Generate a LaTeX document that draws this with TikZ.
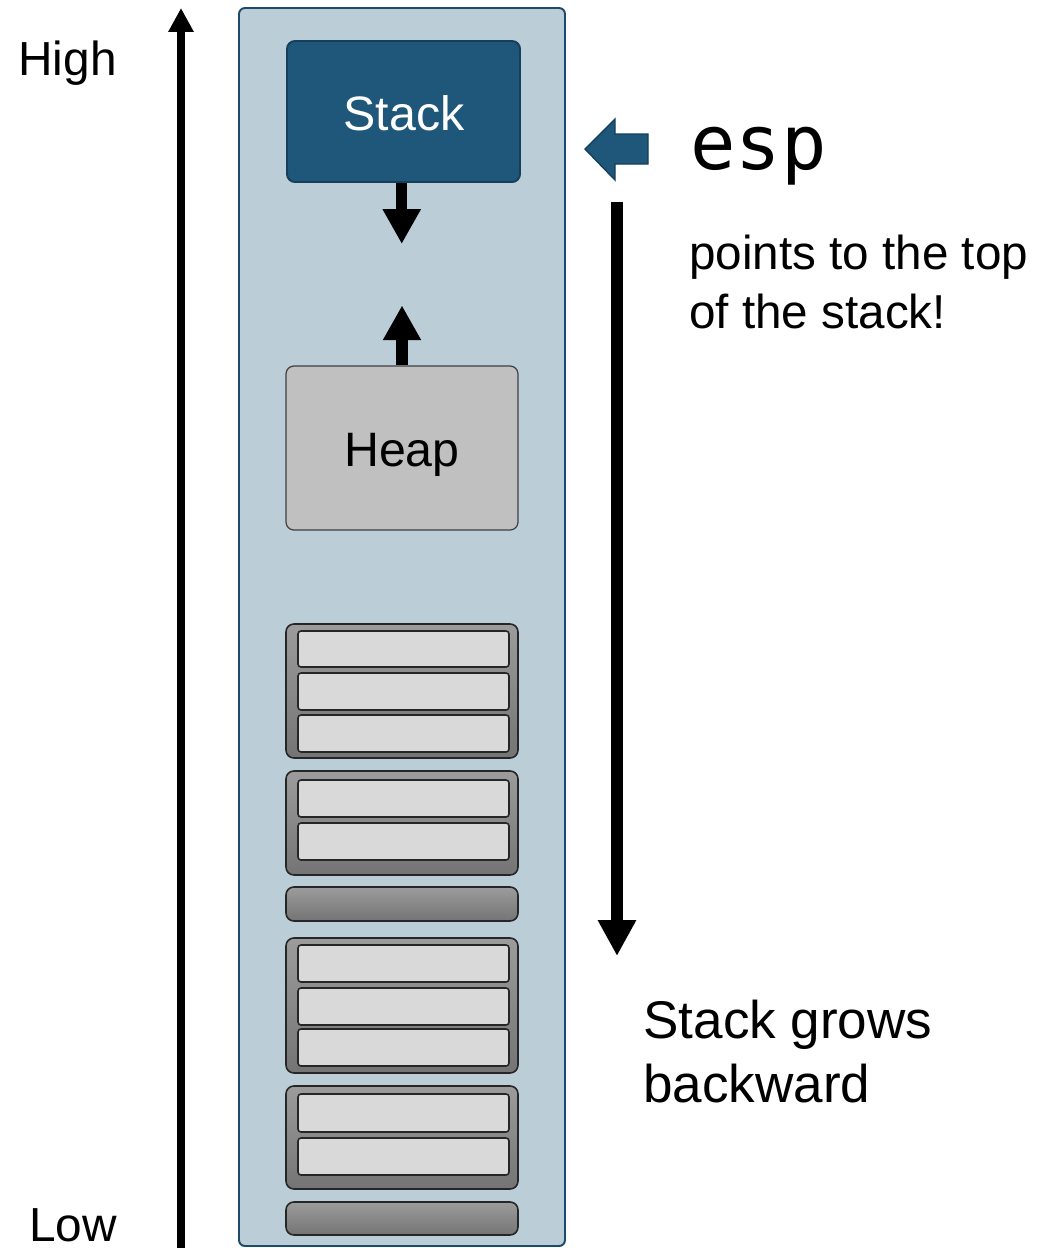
\documentclass[tikz,border=0pt]{standalone}
\usepackage{fontspec}
\setmainfont{Liberation Sans}
\newfontfamily\regfont{DejaVu Sans Mono}
\usetikzlibrary{arrows.meta,fit}

\definecolor{memfill}{HTML}{BBCED8}
\definecolor{memline}{HTML}{1C4A6A}
\definecolor{stackfill}{HTML}{1E5779}
\definecolor{stackline}{HTML}{163F5B}
\definecolor{heapfill}{HTML}{C0C0C0}
\definecolor{slotfill}{HTML}{D9D9D9}
\definecolor{frametop}{HTML}{9C9C9C}
\definecolor{framebot}{HTML}{747474}

\tikzset{
  region/.style={draw=memline, line width=1.1pt, fill=memfill,
    rounded corners=3.4pt, inner sep=0pt},
  stackbox/.style={draw=stackline, line width=1.1pt, fill=stackfill,
    rounded corners=4.5pt, inner sep=0pt},
  heapbox/.style={draw=black!75, line width=0.7pt, fill=heapfill,
    rounded corners=4.5pt, inner sep=0pt},
  framebox/.style={draw=black!85, line width=0.9pt, top color=frametop,
    bottom color=framebot, rounded corners=4.5pt, inner sep=0pt},
  slotbox/.style={draw=black!85, line width=0.9pt, fill=slotfill,
    rounded corners=1.7pt, inner sep=0pt},
  bigarrow/.style={line width=6.4pt,
    -{Triangle[width=20.4pt,length=19.8pt]}},
  growarrow/.style={line width=6.8pt,
    -{Triangle[width=20.4pt,length=20.4pt]}},
  axisarrow/.style={line width=5.1pt,
    -{Triangle[width=13.6pt,length=13.6pt]}},
  boxtext/.style={inner sep=0pt, anchor=base,
    font=\fontsize{27.5}{33}\selectfont},
  sidetext/.style={inner sep=0pt, anchor=base west,
    font=\fontsize{27.2}{32}\selectfont},
  notetext/.style={inner sep=0pt, anchor=base west,
    font=\fontsize{27.1}{33.2}\selectfont},
  growtext/.style={inner sep=0pt, anchor=base west,
    font=\fontsize{30.2}{36.3}\selectfont},
}

\begin{document}
\begin{tikzpicture}[x=0.02cm, y=-0.02cm]
\useasboundingbox (0,0) rectangle (1059,1248);

% address axis
\coordinate (axbot) at (181,1248);
\coordinate (axtop) at (181,8);
\draw[axisarrow] (axbot) -- (axtop);
\node[sidetext] (high) at (18,75) {High};
\node[sidetext] (low) at (29,1241) {Low};

% memory region
\node[region, fit={(239,8) (565,1246)}] (memory) {};

% stack and heap
\node[stackbox, fit={(287,41) (520,182)}] (stack) {};
\node[boxtext, text=white] (stacklbl) at (404,130) {Stack};
\node[heapbox, fit={(286,366) (518,530)}] (heap) {};
\node[boxtext] (heaplbl) at (402,466) {Heap};

\draw[bigarrow] ([xshift=-1pt]stack.south) -- +(0,61);
\draw[bigarrow] (heap.north) -- +(0,-60);

% stack frames
\node[framebox, fit={(286,624) (518,758)}] (frameA) {};
\node[slotbox, fit={(298,631) (509,667)}] (slotA1) {};
\node[slotbox, fit={(298,673) (509,710)}] (slotA2) {};
\node[slotbox, fit={(298,715) (509,752)}] (slotA3) {};

\node[framebox, fit={(286,771) (518,875)}] (frameB) {};
\node[slotbox, fit={(298,780) (509,817)}] (slotB1) {};
\node[slotbox, fit={(298,823) (509,860)}] (slotB2) {};

\node[framebox, fit={(286,887) (518,921)}] (barA) {};

\node[framebox, fit={(286,938) (518,1073)}] (frameC) {};
\node[slotbox, fit={(298,945) (509,982)}] (slotC1) {};
\node[slotbox, fit={(298,988) (509,1025)}] (slotC2) {};
\node[slotbox, fit={(298,1029) (509,1066)}] (slotC3) {};

\node[framebox, fit={(286,1086) (518,1189)}] (frameD) {};
\node[slotbox, fit={(298,1094) (509,1132)}] (slotD1) {};
\node[slotbox, fit={(298,1138) (509,1175)}] (slotD2) {};

\node[framebox, fit={(286,1202) (518,1235)}] (barB) {};

% esp pointer
\draw[fill=stackfill, draw=stackline, line width=0.8pt, line join=miter]
  (585,149) -- (615,119) -- (615,134) -- (648,134) -- (648,164)
  -- (615,164) -- (615,180) -- cycle;
\node[inner sep=0pt, anchor=base west, font=\regfont\fontsize{43}{50}\selectfont]
  (esp) at (690,169) {esp};
\node[notetext, align=left] (note) at (689,328)
  {points to the top\\of the stack!};

% growth direction
\coordinate (growtop) at (617,202);
\coordinate (growend) at (617,956);
\draw[growarrow] (growtop) -- (growend);
\node[growtext, align=left] (grow) at (643,1102)
  {Stack grows\\backward};
\end{tikzpicture}
\end{document}
